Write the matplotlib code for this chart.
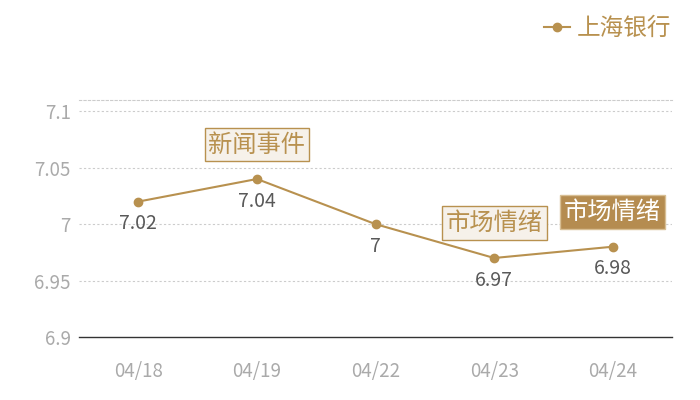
import matplotlib
matplotlib.use("Agg")
import matplotlib.pyplot as plt
from matplotlib.lines import Line2D

plt.rcParams['font.family'] = ['Noto Sans CJK SC', 'DejaVu Sans']

categories = ["04/18", "04/19", "04/22", "04/23", "04/24"]
values = [7.02, 7.04, 7.00, 6.97, 6.98]
value_labels = ["7.02", "7.04", "7", "6.97", "6.98"]
yticks = [6.9, 6.95, 7.0, 7.05, 7.1]
ytick_labels = ["6.9", "6.95", "7", "7.05", "7.1"]
series_name = "上海银行"
events = [(1, 7.0705, "新闻事件", "light"), (3, 7.001, "市场情绪", "light"), (4, 7.011, "市场情绪", "dark")]

gold = "#b8914f"
fig = plt.figure(figsize=(7, 4), dpi=100)
ax = fig.add_axes([0.113, 0.1575, 0.847, 0.5925])
x = list(range(len(categories)))
ax.plot(x, values, color=gold, lw=1.5, marker='o', ms=6, zorder=3)
for xi, v, lab in zip(x, values, value_labels):
    ax.annotate(lab, (xi, v), xytext=(0, -16), textcoords='offset points',
                ha='center', va='center', fontsize=14, color='#595959')
for xi, yv, txt, style in events:
    if style == "light":
        ax.text(xi, yv, txt, ha='center', va='center', fontsize=17.5, color=gold,
                bbox=dict(boxstyle='square,pad=0.16', fc='#f6f1ea', ec=gold, lw=1), zorder=4)
    else:
        ax.text(xi, yv, txt, ha='center', va='center', fontsize=17.5, color='white',
                bbox=dict(boxstyle='square,pad=0.16', fc='#b58c50', ec='#d8bf94', lw=1), zorder=4)

ax.set_xlim(-0.5, 4.5)
ax.set_ylim(6.9, 7.11)
ax.set_xticks(x)
ax.set_xticklabels(categories)
ax.set_yticks(yticks)
ax.set_yticklabels(ytick_labels)
ax.tick_params(axis='both', length=0, labelsize=13.5, labelcolor='#aaaaaa')
ax.tick_params(axis='x', pad=17)
ax.tick_params(axis='y', pad=6)
ax.grid(axis='y', color='#cccccc', ls=(0, (2, 2)), lw=0.8)
for s in ['left', 'right']:
    ax.spines[s].set_visible(False)
ax.spines['top'].set_color('#cccccc')
ax.spines['top'].set_linestyle((0, (2, 2)))
ax.spines['top'].set_linewidth(0.8)
ax.spines['bottom'].set_color('#333333')
ax.spines['bottom'].set_linewidth(1)
for gl in ax.get_ygridlines()[:1]:
    gl.set_visible(False)

handle = Line2D([], [], color=gold, lw=1.5, marker='o', ms=6)
leg = fig.legend([handle], [series_name], loc='upper right', bbox_to_anchor=(0.99, 1.01),
                 frameon=False, fontsize=17, handlelength=1.1, handletextpad=0.3)
for t in leg.get_texts():
    t.set_color(gold)

fig.savefig("out.png", dpi=100)
